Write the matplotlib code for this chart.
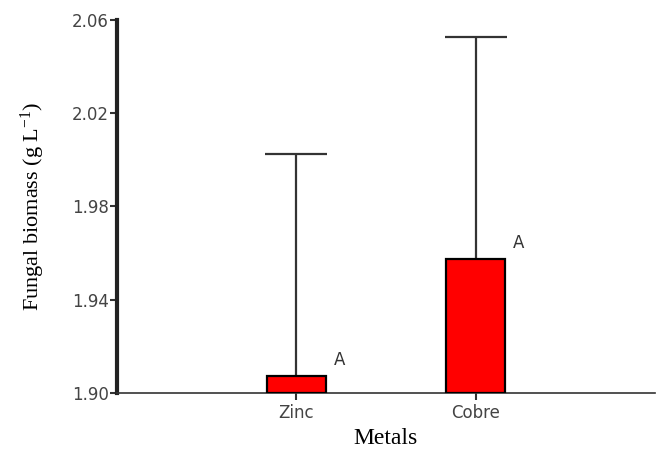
import matplotlib
matplotlib.use("Agg")
import matplotlib.pyplot as plt

plt.rcParams["mathtext.fontset"] = "custom"
plt.rcParams["mathtext.rm"] = "Liberation Serif"
plt.rcParams["mathtext.it"] = "Liberation Serif:italic"

categories = ["Zinc", "Cobre"]
means = [1.9073, 1.9575]
errors = [0.0950, 0.0950]
letters = ["A", "A"]
yticks = [1.90, 1.94, 1.98, 2.02, 2.06]
ytick_labels = ["1.90", "1.94", "1.98", "2.02", "2.06"]

fig = plt.figure(figsize=(6.58, 4.53), dpi=100)
ax = fig.add_axes([0.178, 0.1325, 0.817, 0.8235])

x = [1, 2]
base = 1.90
ax.bar(x, [m - base for m in means], bottom=base, width=0.33, color="#ff0000",
       edgecolor="black", linewidth=1.6, zorder=3)
_, caps, _ = ax.errorbar(x, means, yerr=[[0, 0], errors], fmt="none", ecolor="#333333",
                         elinewidth=1.6, capsize=22.5, capthick=1.6, zorder=2)
caps[0].set_visible(False)

for xi, m, l in zip(x, means, letters):
    ax.text(xi + 0.24, m + 0.007, l, fontsize=12, color="#333333",
            family="DejaVu Sans", ha="center", va="center")

ax.set_xlim(0, 3)
ax.set_ylim(1.90, 2.06)
ax.set_xticks(x)
ax.set_xticklabels(categories, family="DejaVu Sans", fontsize=12, color="#444444")
ax.set_yticks(yticks)
ax.set_yticklabels(ytick_labels, family="DejaVu Sans", fontsize=12, color="#444444")

for s in ["top", "right"]:
    ax.spines[s].set_visible(False)
ax.spines["left"].set_linewidth(3)
ax.spines["left"].set_color("#222222")
ax.spines["bottom"].set_linewidth(1.2)
ax.spines["bottom"].set_color("#333333")
ax.tick_params(axis="y", length=5, width=1.5, pad=1, colors="#333333", labelcolor="#444444")
ax.tick_params(axis="x", length=5, width=1.5, pad=3, colors="#333333", labelcolor="#444444")

ax.set_xlabel("Metals", family="Liberation Serif", fontsize=17, labelpad=4)
ax.set_ylabel("Fungal biomass (g L$^{-1}$)", family="Liberation Serif", fontsize=16, labelpad=18)

fig.savefig("out.png", dpi=100)
